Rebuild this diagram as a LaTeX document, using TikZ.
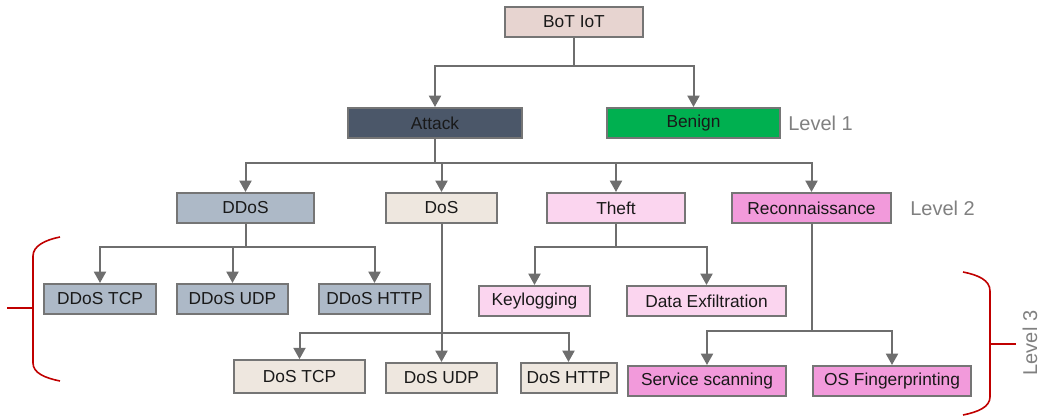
\documentclass[tikz,border=0pt]{standalone}
\usepackage{fontspec}
\setmainfont{Liberation Sans}
\usetikzlibrary{arrows.meta}
\definecolor{rootc}{HTML}{E7D4D0}
\definecolor{attackc}{HTML}{4B5769}
\definecolor{benignc}{HTML}{00B050}
\definecolor{ddosc}{HTML}{ADB9C7}
\definecolor{dosc}{HTML}{EEE7DF}
\definecolor{theftc}{HTML}{FBD5EF}
\definecolor{reconc}{HTML}{F29ADB}
\definecolor{borderc}{HTML}{757575}
\definecolor{linec}{HTML}{6E6E6E}
\definecolor{levelc}{HTML}{808080}
\definecolor{bracec}{HTML}{C00000}
\tikzset{
  box/.style={draw=borderc, line width=1.5pt, inner sep=0pt, minimum height=22.5pt,
    font=\fontsize{13}{15}\selectfont, text=black!90},
  bw/.style={minimum width=#1*0.75pt},
  conn/.style={draw=linec, line width=1.5pt},
  arr/.style={conn, -{Triangle[length=8.5pt,width=9pt]}},
  lvl/.style={text=levelc, font=\fontsize{15}{17}\selectfont, inner sep=0pt},
  bracestyle/.style={draw=bracec, line width=1.2pt},
}
\begin{document}
\begin{tikzpicture}[x=0.75pt,y=-0.75pt]
\useasboundingbox (0,0) rectangle (1040,416);
% nodes
\node[box,bw=138,fill=rootc] (root) at (574,22) {BoT IoT};
\node[box,bw=174,fill=attackc] (attack) at (435,123) {Attack};
\node[box,bw=173,fill=benignc] (benign) at (693.5,123) {Benign};
\node[lvl,anchor=west] (lvl1) at (788,123) {Level 1};
\node[box,bw=137,fill=ddosc] (ddos) at (245.5,208) {DDoS};
\node[box,bw=111,fill=dosc] (dos) at (441.5,208) {DoS};
\node[box,bw=138,fill=theftc] (theft) at (616,208) {Theft};
\node[box,bw=159,fill=reconc] (recon) at (811.5,208) {Reconnaissance};
\node[lvl,anchor=west] (lvl2) at (910,208) {Level 2};
\node[box,bw=112,fill=ddosc] (ddostcp) at (100,299) {DDoS TCP};
\node[box,bw=111,fill=ddosc] (ddosudp) at (232.5,299) {DDoS UDP};
\node[box,bw=111,fill=ddosc] (ddoshttp) at (374.5,299) {DDoS HTTP};
\node[box,bw=111,fill=theftc] (keylog) at (534.5,301) {Keylogging};
\node[box,bw=159,fill=theftc] (exfil) at (706.5,301) {Data Exfiltration};
\node[box,bw=131,minimum height=24.5pt,fill=dosc] (dostcp) at (299.5,376.5) {DoS TCP};
\node[box,bw=111,fill=dosc] (dosudp) at (441.5,378) {DoS UDP};
\node[box,bw=96,fill=dosc] (doshttp) at (568.5,378) {DoS HTTP};
\node[box,bw=158,fill=reconc] (service) at (707,381) {Service scanning};
\node[box,bw=158,fill=reconc] (osfp) at (892,381) {OS Fingerprinting};
\node[lvl,rotate=90] (lvl3) at (1030,343) {Level 3};
% junctions
\coordinate (j1) at (574,66);
\coordinate (j2) at (435,163);
\coordinate (jddos) at (245.5,247);
\coordinate (jtheft) at (616,247);
\coordinate (jdos) at (441.5,333);
\coordinate (jrec) at (811.5,331);
% connectors
\draw[conn] (root) -- (j1);
\draw[arr] (j1) -| (attack);
\draw[arr] (j1) -| (benign);
\draw[conn] (attack) -- (j2);
\draw[arr] (j2) -| (ddos);
\draw[arr] (j2) -| (dos);
\draw[arr] (j2) -| (theft);
\draw[arr] (j2) -| (recon);
\draw[conn] (ddos) -- (jddos);
\draw[arr] (jddos) -| (ddostcp);
\draw[arr] (jddos) -| (ddosudp);
\draw[arr] (jddos) -| (ddoshttp);
\draw[conn] (theft) -- (jtheft);
\draw[arr] (jtheft) -| (keylog);
\draw[arr] (jtheft) -| (exfil);
\draw[arr] (dos) -- (dosudp);
\draw[arr] (jdos) -| (dostcp);
\draw[arr] (jdos) -| (doshttp);
\draw[conn] (recon) -- (jrec);
\draw[arr] (jrec) -| (service);
\draw[arr] (jrec) -| (osfp);
% brackets
\draw[bracestyle] (60,237) .. controls (45,240) and (33,246) .. (33,256) -- (33,363) .. controls (33,373) and (45,378) .. (60,381);
\draw[bracestyle] (7,308) -- (33,308);
\draw[bracestyle] (963,272) .. controls (978,275) and (990,280) .. (990,291) -- (990,397) .. controls (990,407) and (978,412) .. (963,415);
\draw[bracestyle] (990,344) -- (1016,344);
\end{tikzpicture}
\end{document}
